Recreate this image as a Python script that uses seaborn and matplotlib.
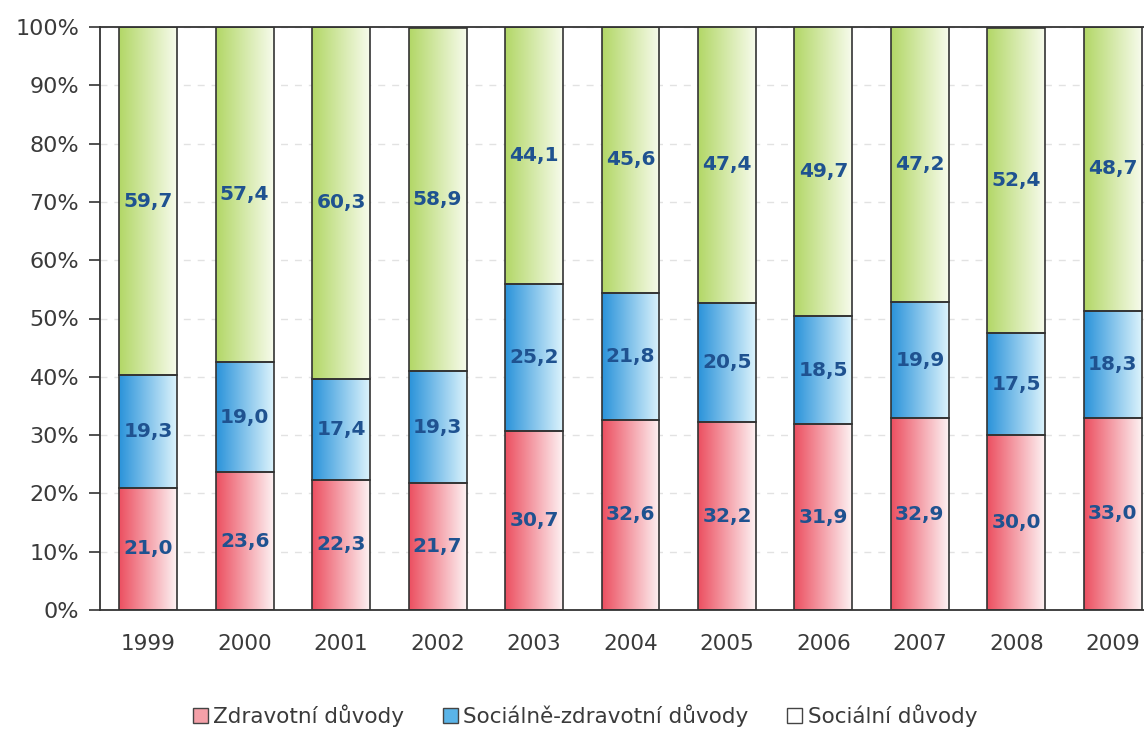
import numpy as np
import pandas as pd
import matplotlib
matplotlib.use("Agg")
import matplotlib.pyplot as plt
from matplotlib.colors import LinearSegmentedColormap
from matplotlib.patches import Patch
import seaborn as sns

years = ["1999", "2000", "2001", "2002", "2003", "2004", "2005", "2006", "2007", "2008", "2009"]
zdravotni = [21.0, 23.6, 22.3, 21.7, 30.7, 32.6, 32.2, 31.9, 32.9, 30.0, 33.0]
soc_zdrav = [19.3, 19.0, 17.4, 19.3, 25.2, 21.8, 20.5, 18.5, 19.9, 17.5, 18.3]
socialni = [59.7, 57.4, 60.3, 58.9, 44.1, 45.6, 47.4, 49.7, 47.2, 52.4, 48.7]
series_names = ["Zdravotní důvody", "Sociálně-zdravotní důvody", "Sociální důvody"]
yticklabels = ["0%", "10%", "20%", "30%", "40%", "50%", "60%", "70%", "80%", "90%", "100%"]

sns.set_style("white")
plt.rcParams["font.family"] = ["DejaVu Sans"]

grads = [("#ec4f60", "#fdf2f3"), ("#2a93da", "#dcf3fc"), ("#b2d766", "#f7fbec")]
legend_colors = ["#f4a0a8", "#5ab4e8", "#ffffff"]

fig = plt.figure(figsize=(11.44, 7.29), dpi=100)
ax = fig.add_axes([100 / 1144, 119 / 729, 1061 / 1144, 583 / 729])

df = pd.DataFrame({"year": years, "z": zdravotni, "sz": soc_zdrav, "s": socialni})
bottoms = np.zeros(len(years))
groups = []
for col in ["z", "sz", "s"]:
    n0 = len(ax.patches)
    sns.barplot(data=df, x="year", y=col, bottom=bottoms.copy(), width=0.6,
                color="white", edgecolor="#333333", linewidth=1.2, ax=ax, zorder=3)
    groups.append(ax.patches[n0:])
    bottoms = bottoms + df[col].to_numpy()

grad = np.linspace(0, 1, 256).reshape(1, -1)
for (c0, c1), patches in zip(grads, groups):
    cmap = LinearSegmentedColormap.from_list("g", [c0, c1])
    for p in patches:
        x0, y0 = p.get_x(), p.get_y()
        w, h = p.get_width(), p.get_height()
        im = ax.imshow(grad, cmap=cmap, extent=[x0, x0 + w, y0, y0 + h],
                       aspect="auto", zorder=2.5, interpolation="bilinear")
        im.set_clip_path(p)
        p.set_facecolor("none")

label_color = "#1f5290"
bottoms = np.zeros(len(years))
for vals in [zdravotni, soc_zdrav, socialni]:
    for i, v in enumerate(vals):
        ax.text(i, bottoms[i] + v / 2, f"{v:.1f}".replace(".", ","), ha="center", va="center",
                fontsize=14.5, fontweight="bold", color=label_color, zorder=5)
    bottoms = bottoms + np.array(vals)

ax.set_xlim(-0.5, 10.5)
ax.set_ylim(0, 100)
ax.set_yticks(np.arange(0, 101, 10))
ax.set_yticklabels(yticklabels)
ax.set_xlabel("")
ax.set_ylabel("")
ax.set_xticks(np.arange(-0.5, 11, 1), minor=True)
ax.tick_params(axis="x", which="major", length=0, pad=17, labelsize=15.5, labelcolor="#3a3a3a")
ax.tick_params(axis="x", which="minor", length=8, width=1.2, color="#333333", direction="out")
ax.tick_params(axis="y", length=8, width=1.2, color="#333333", direction="out", pad=7,
               labelsize=16, labelcolor="#3a3a3a", left=True)
for s in ["left", "bottom", "top"]:
    ax.spines[s].set_visible(True)
    ax.spines[s].set_color("#333333")
    ax.spines[s].set_linewidth(1.3)
ax.spines["right"].set_visible(False)
ax.yaxis.grid(True, linestyle=(0, (5, 5)), color="#e2e2e2", linewidth=1, zorder=0)
ax.set_axisbelow(True)

handles = [Patch(facecolor=c, edgecolor="#444444", linewidth=1) for c in legend_colors]
fig.legend(handles, series_names, loc="center", bbox_to_anchor=(585 / 1144, 1 - 716 / 729),
           ncol=3, frameon=False, fontsize=15.5, handlelength=0.7, handleheight=0.7,
           handletextpad=0.25, columnspacing=1.8, labelcolor="#3a3a3a")

fig.savefig("out.png", dpi=100)
